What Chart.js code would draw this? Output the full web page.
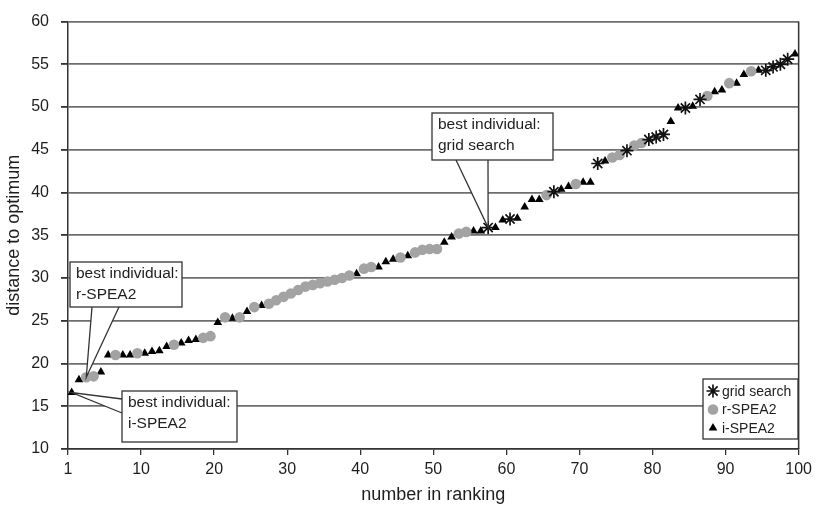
<!DOCTYPE html>
<html>
<head>
    <title>distance to optimum by ranking</title>
    <script src="https://cdn.jsdelivr.net/npm/chart.js"></script>
    <style>
        body { margin: 0; background: #fff; }
        #wrap { width: 817px; height: 507px; }
    </style>
</head>
<body>
    <div id="wrap"><canvas id="rankChart" width="817" height="507"></canvas></div>

    <script>
        // tick labels of the category-style x axis
        const xTickLabels = ['1', '10', '20', '30', '40', '50', '60', '70', '80', '90', '100'];

        // grid search individuals
        const gridRanks = [58, 61, 67, 73, 77, 80, 81, 82, 85, 87, 96, 97, 98, 99];
        const gridValues = [35.9, 36.9, 40.1, 43.4, 44.9, 46.2, 46.5, 46.8, 49.9, 50.9, 54.3, 54.7, 55.0, 55.6];

        // r-SPEA2 individuals
        const rRanks = [3, 4, 7, 10, 15, 19, 20, 22, 24, 26, 28, 29, 30, 31, 32, 33, 34, 35, 36, 37, 38, 39,
            41, 42, 46, 48, 49, 50, 51, 54, 55, 66, 70, 75, 76, 78, 79, 88, 91, 94];
        const rValues = [18.4, 18.5, 21.0, 21.2, 22.2, 23.0, 23.2, 25.4, 25.4, 26.6, 27.0, 27.4, 27.8, 28.2, 28.6,
            29.0, 29.2, 29.4, 29.6, 29.8, 30.0, 30.3, 31.1, 31.3, 32.4, 33.0, 33.3, 33.4, 33.4, 35.2, 35.4,
            39.7, 41.0, 44.1, 44.4, 45.5, 45.8, 51.3, 52.8, 54.2];

        // i-SPEA2 individuals
        const iRanks = [1, 2, 5, 6, 8, 9, 11, 12, 13, 14, 16, 17, 18, 21, 23, 25, 27, 40, 43, 44, 45, 47, 52, 53,
            56, 57, 59, 60, 62, 63, 64, 65, 68, 69, 71, 72, 74, 83, 84, 86, 89, 90, 92, 93, 95, 100];
        const iValues = [16.6, 18.1, 19.0, 21.0, 21.0, 21.0, 21.2, 21.4, 21.5, 22.0, 22.4, 22.7, 22.8, 24.8, 25.3,
            26.1, 26.8, 30.5, 31.3, 31.9, 32.2, 32.6, 34.2, 34.8, 35.5, 35.5, 35.9, 36.8, 37.0, 38.3, 39.2,
            39.2, 40.4, 40.7, 41.2, 41.2, 43.7, 48.3, 49.9, 50.1, 51.8, 52.0, 52.8, 53.8, 54.3, 56.2];

        const FONT = "'Liberation Sans', Arial, sans-serif";
        const INK = '#1e1e1e';

        function toPoints(ranks, values) {
            return ranks.map((r, i) => ({ x: r, y: values[i] }));
        }

        // right border of the plot area
        const frame = {
            id: 'frame',
            afterDraw(chart) {
                const { ctx, chartArea } = chart;
                ctx.save();
                ctx.strokeStyle = '#333';
                ctx.lineWidth = 1.5;
                ctx.beginPath();
                ctx.moveTo(chartArea.right, chartArea.top);
                ctx.lineTo(chartArea.right, chartArea.bottom);
                ctx.stroke();
                ctx.restore();
            }
        };

        // callout boxes pointing at the best individual of each method
        const callouts = [
            { dataset: 1, box: [70, 262, 112, 45], base: [[92, 307], [119, 307]], lines: ['best individual:', 'r-SPEA2'] },
            { dataset: 2, box: [122, 391, 115, 51], base: [[122, 399], [122, 413]], lines: ['best individual:', 'i-SPEA2'] },
            { dataset: 0, box: [432, 113, 121, 47], base: [[456, 160], [488, 160]], lines: ['best individual:', 'grid search'] }
        ];

        const calloutPlugin = {
            id: 'callouts',
            afterDatasetsDraw(chart) {
                const ctx = chart.ctx;
                ctx.save();
                callouts.forEach(c => {
                    const pt = chart.getDatasetMeta(c.dataset).data[0];
                    const [bx, by, bw, bh] = c.box;
                    ctx.lineWidth = 1.3;
                    ctx.strokeStyle = '#333';
                    ctx.fillStyle = '#fff';
                    // wedge
                    ctx.beginPath();
                    ctx.moveTo(c.base[0][0], c.base[0][1]);
                    ctx.lineTo(pt.x, pt.y);
                    ctx.lineTo(c.base[1][0], c.base[1][1]);
                    ctx.closePath();
                    ctx.fill();
                    ctx.beginPath();
                    ctx.moveTo(c.base[0][0], c.base[0][1]);
                    ctx.lineTo(pt.x, pt.y);
                    ctx.lineTo(c.base[1][0], c.base[1][1]);
                    ctx.stroke();
                    // box
                    ctx.fillRect(bx, by, bw, bh);
                    ctx.strokeRect(bx, by, bw, bh);
                    ctx.fillStyle = INK;
                    ctx.font = '15.5px ' + FONT;
                    ctx.textBaseline = 'middle';
                    ctx.textAlign = 'left';
                    c.lines.forEach((t, i) => ctx.fillText(t, bx + 6, by + 12 + i * 21));
                });
                ctx.restore();
            }
        };

        // legend box inside the plot area
        const legendBox = {
            id: 'legendBox',
            afterDraw(chart) {
                const ctx = chart.ctx;
                const x = 703, y = 379, w = 95, h = 60;
                ctx.save();
                ctx.fillStyle = '#fff';
                ctx.strokeStyle = '#333';
                ctx.lineWidth = 1.3;
                ctx.fillRect(x, y, w, h);
                ctx.strokeRect(x, y, w, h);
                ctx.font = '14px ' + FONT;
                ctx.textBaseline = 'middle';
                chart.data.datasets.forEach((ds, i) => {
                    const cy = y + 12 + i * 18.5;
                    ctx.fillStyle = ds.backgroundColor;
                    ctx.strokeStyle = ds.borderColor;
                    ctx.lineWidth = ds.borderWidth;
                    Chart.helpers.drawPoint(ctx, {
                        pointStyle: ds.pointStyle,
                        radius: ds.pointRadius,
                        borderWidth: ds.borderWidth,
                        rotation: 0
                    }, x + 10, cy);
                    ctx.fillStyle = INK;
                    ctx.fillText(ds.label, x + 19, cy + 1);
                });
                ctx.restore();
            }
        };

        new Chart(document.getElementById('rankChart'), {
            type: 'scatter',
            data: {
                datasets: [
                    {
                        label: 'grid search',
                        data: toPoints(gridRanks, gridValues),
                        pointStyle: 'star',
                        pointRadius: 6.5,
                        borderWidth: 1.7,
                        borderColor: '#111',
                        backgroundColor: '#111'
                    },
                    {
                        label: 'r-SPEA2',
                        data: toPoints(rRanks, rValues),
                        pointStyle: 'circle',
                        pointRadius: 5.3,
                        borderWidth: 0,
                        borderColor: '#a3a3a3',
                        backgroundColor: '#a3a3a3'
                    },
                    {
                        label: 'i-SPEA2',
                        data: toPoints(iRanks, iValues),
                        pointStyle: 'triangle',
                        pointRadius: 5,
                        borderWidth: 0,
                        borderColor: '#000',
                        backgroundColor: '#000'
                    }
                ]
            },
            options: {
                responsive: false,
                animation: false,
                layout: { padding: { left: 0, right: 15, top: 20, bottom: 0 } },
                plugins: {
                    legend: { display: false },
                    tooltip: { enabled: false }
                },
                scales: {
                    x: {
                        type: 'linear',
                        min: 0.5,
                        max: 100.5,
                        afterBuildTicks: s => { s.ticks = xTickLabels.map((_, i) => ({ value: i * 10 + 0.5 })); },
                        afterFit: s => { s.height = 58; },
                        ticks: {
                            autoSkip: false,
                            maxRotation: 0,
                            padding: 5,
                            color: INK,
                            font: { family: FONT, size: 16 },
                            callback: (v, i) => xTickLabels[i]
                        },
                        grid: { drawOnChartArea: false, tickLength: 6, tickColor: '#333', lineWidth: 1.3 },
                        border: { display: true, color: '#333', width: 1.5 },
                        title: {
                            display: true,
                            text: 'number in ranking',
                            color: INK,
                            font: { family: FONT, size: 18 },
                            padding: { top: 0, bottom: 1 }
                        }
                    },
                    y: {
                        min: 10,
                        max: 60,
                        afterFit: s => { s.width = 68; },
                        ticks: {
                            stepSize: 5,
                            padding: 12,
                            color: INK,
                            font: { family: FONT, size: 16 }
                        },
                        grid: { color: '#6e6e6e', lineWidth: 1.8, tickLength: 7, tickColor: '#333' },
                        border: { display: true, color: '#333', width: 1.5 },
                        title: {
                            display: true,
                            text: 'distance to optimum',
                            color: INK,
                            font: { family: FONT, size: 18 },
                            padding: { top: 3, bottom: 0 }
                        }
                    }
                }
            },
            plugins: [frame, calloutPlugin, legendBox]
        });
    </script>
</body>
</html>
